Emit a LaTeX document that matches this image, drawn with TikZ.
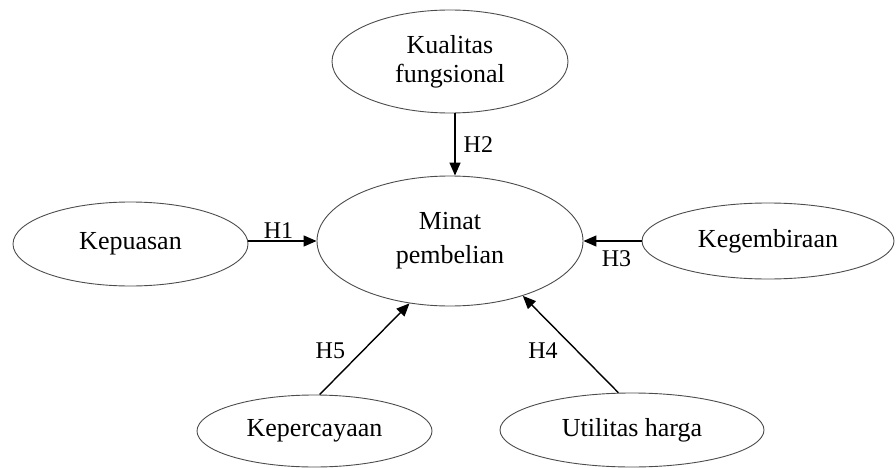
\documentclass[tikz,border=0pt]{standalone}
\usepackage{fontspec}
\setmainfont{Liberation Serif}
\usetikzlibrary{shapes.geometric,arrows.meta}
\begin{document}
\begin{tikzpicture}[x=1pt,y=-1pt,
  ell/.style={draw=black!70, line width=0.9pt, ellipse, inner sep=0pt, align=center,
    font=\fontsize{26}{29}\selectfont},
  arr/.style={draw=black, line width=1.4pt, -{Triangle[length=13pt,width=11pt]}},
  hlab/.style={font=\fontsize{24}{28}\selectfont, inner sep=0pt}]
\useasboundingbox (0,0) rectangle (896,468);
\node[ell, minimum width=236pt, minimum height=103pt] (kual) at (450,61.5) {Kualitas\\fungsional};
\node[ell, minimum width=266pt, minimum height=130pt, font=\fontsize{26}{34}\selectfont] (minat) at (450,241) {Minat\\pembelian};
\node[ell, minimum width=235pt, minimum height=84pt] (kepu) at (130.5,244) {Kepuasan};
\node[ell, minimum width=252pt, minimum height=76pt] (kegem) at (768,241) {Kegembiraan};
\node[ell, minimum width=235pt, minimum height=72pt] (kepc) at (314.5,431) {Kepercayaan};
\node[ell, minimum width=264pt, minimum height=74pt] (util) at (632,430) {Utilitas harga};
\draw[arr] ([xshift=5pt]kual.south) -- ([xshift=5pt]minat.north) node[midway, right=8pt, hlab] {H2};
\draw[arr] (kepu.east |- minat.west) -- (minat.west) node[midway, above=1.5pt, xshift=-4pt, hlab] {H1};
\draw[arr] (kegem.west |- minat.east) -- (minat.east) node[midway, below=9pt, xshift=4pt, hlab] {H3};
\draw[arr] (util.110) -- (minat.323) node[pos=0.43, left=19pt, hlab] {H4};
\draw[arr] (kepc.82) -- (minat.237) node[pos=0.48, left=17pt, hlab] {H5};
\end{tikzpicture}
\end{document}
